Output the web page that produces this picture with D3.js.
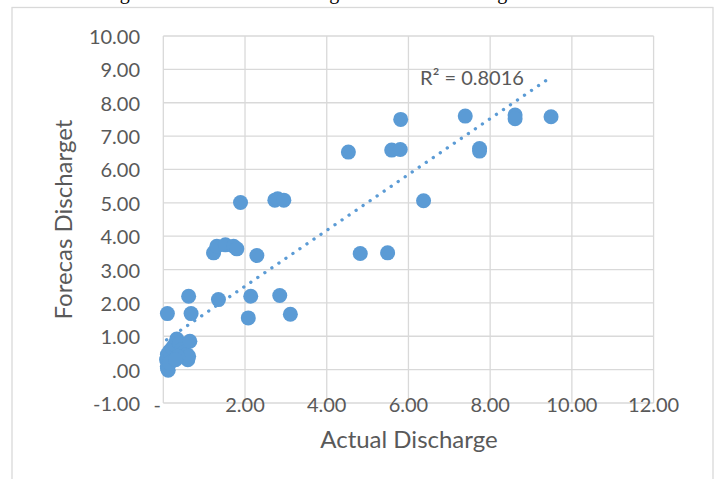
<!DOCTYPE html>
<html lang="en">
<head>
<meta charset="utf-8">
<title>forecast vs actual discharge</title>
<script src="https://cdn.jsdelivr.net/npm/d3@7"></script>
<style>
  body { margin: 0; background: #fff; }
  text { font-family: Lato, "Open Sans", sans-serif; fill: #595959; }
</style>
</head>
<body>
<div id="chart"></div>
<script>
// actual vs forecast discharge
var actual = [0.12, 0.10, 0.08, 0.10, 0.15, 0.22, 0.28, 0.33, 0.40, 0.45, 0.50, 0.58, 0.60, 0.62, 0.65, 0.20, 0.35,
              0.10, 0.15, 0.30,
              0.10, 0.62, 0.68, 1.35, 2.14, 2.08, 2.85, 3.11,
              1.23, 1.31, 1.52, 1.72, 1.80, 2.29,
              1.89, 2.73, 2.80, 2.95,
              4.53, 4.82, 5.49, 5.59, 5.80, 5.81, 6.37, 7.39, 7.74, 7.74, 8.61, 8.61, 9.49]
var forecast = [-0.02, 0.10, 0.30, 0.45, 0.55, 0.65, 0.75, 0.92, 0.80, 0.60, 0.50, 0.45, 0.30, 0.40, 0.85, 0.25, 0.40,
                0.05, 0.20, 0.30,
                1.68, 2.20, 1.68, 2.10, 2.20, 1.55, 2.22, 1.66,
                3.50, 3.70, 3.74, 3.70, 3.62, 3.42,
                5.01, 5.08, 5.12, 5.08,
                6.52, 3.48, 3.50, 6.58, 6.60, 7.50, 5.06, 7.60, 6.63, 6.55, 7.63, 7.52, 7.58]
var xTicks = [0, 2, 4, 6, 8, 10, 12]
var yTicks = [-1, 0, 1, 2, 3, 4, 5, 6, 7, 8, 9, 10]
var r2Label = "R² = 0.8016"

var W = 718, H = 479
var x0 = 163.3, x1 = 653.6, yTop = 36, yBot = 403

// excel style number format, zero shown as dash, plain hyphen for minus
function fmt(v){
	if(v == 0) return "-"
	return d3.format(".2f")(v).replace("\u2212", "-")
}
function fmtY(v){
	if(v == 0) return ".00"
	return d3.format(".2f")(v).replace("\u2212", "-")
}

var xScale = d3.scaleLinear().domain([0, 12]).range([x0, x1])
var yScale = d3.scaleLinear().domain([-1, 10]).range([yBot, yTop])

var svg = d3.select("#chart").append("svg")
	.attr("width", W).attr("height", H)

// caption of the page, mostly cut off at the top
svg.append("text")
	.text("Figure 5. Forecasted discharge and actual discharge for the station")
	.attr("x", 103).attr("y", -1)
	.style("font-family", "'Liberation Serif', serif")
	.style("font-size", "20px")
	.style("fill", "#000")

// chart area frame
svg.append("rect")
	.attr("x", 12).attr("y", 7.5)
	.attr("width", 701).attr("height", 500)
	.attr("fill", "none").attr("stroke", "#d9d9d9").attr("stroke-width", 1.3)

// grid
svg.append("g").selectAll("line").data(yTicks).enter().append("line")
	.attr("x1", x0).attr("x2", x1)
	.attr("y1", function(d){ return yScale(d) })
	.attr("y2", function(d){ return yScale(d) })
	.attr("stroke", "#d9d9d9").attr("stroke-width", 1.3)
svg.append("g").selectAll("line").data(xTicks).enter().append("line")
	.attr("x1", function(d){ return xScale(d) })
	.attr("x2", function(d){ return xScale(d) })
	.attr("y1", yTop).attr("y2", yBot)
	.attr("stroke", "#d9d9d9").attr("stroke-width", 1.3)

// y tick labels
svg.append("g").selectAll("text").data(yTicks).enter().append("text")
	.text(fmtY)
	.attr("x", 140)
	.attr("y", function(d){ return yScale(d) })
	.attr("text-anchor", "end")
	.attr("dominant-baseline", "central")
	.style("font-size", "20px")

// x tick labels (sit on the bottom grid line like the original)
svg.append("g").selectAll("text").data(xTicks).enter().append("text")
	.text(fmt)
	.attr("x", function(d){ return d == 0 ? xScale(d) - 6 : xScale(d) })
	.attr("y", yBot + 1)
	.attr("text-anchor", "middle")
	.attr("dominant-baseline", "central")
	.style("font-size", "20px")

// axis titles
svg.append("text").text("Actual Discharge")
	.attr("x", 409).attr("y", 448)
	.attr("text-anchor", "middle")
	.style("font-size", "24px")
svg.append("text").text("Forecas Discharget")
	.attr("transform", "translate(72," + ((yTop + yBot) / 2) + ") rotate(-90)")
	.attr("text-anchor", "middle")
	.style("font-size", "24px")

// points
var pts = actual.map(function(a, i){ return {x: a, y: forecast[i]} })

// linear trendline from the points
var mx = d3.mean(pts, function(d){ return d.x })
var my = d3.mean(pts, function(d){ return d.y })
var sxy = d3.sum(pts, function(d){ return (d.x - mx) * (d.y - my) })
var sxx = d3.sum(pts, function(d){ return (d.x - mx) * (d.x - mx) })
var slope = sxy / sxx
var icpt = my - slope * mx
var ext = d3.extent(pts, function(d){ return d.x })
var trend = ext.map(function(v){ return {x: v, y: icpt + slope * v} })

svg.append("g").selectAll("circle").data(pts).enter().append("circle")
	.attr("cx", function(d){ return xScale(d.x) })
	.attr("cy", function(d){ return yScale(d.y) })
	.attr("r", 7.5)
	.attr("fill", "#5b9bd5")

var line = d3.line()
	.x(function(d){ return xScale(d.x) })
	.y(function(d){ return yScale(d.y) })
svg.append("path")
	.datum(trend)
	.attr("d", line)
	.attr("fill", "none")
	.attr("stroke", "#5b9bd5")
	.attr("stroke-width", 3.3)
	.attr("stroke-linecap", "round")
	.style("stroke-dasharray", "0.1,8.4")

svg.append("text").text(r2Label)
	.attr("x", 472).attr("y", 77)
	.attr("text-anchor", "middle")
	.attr("dominant-baseline", "central")
	.style("font-size", "20px")
</script>
</body>
</html>
